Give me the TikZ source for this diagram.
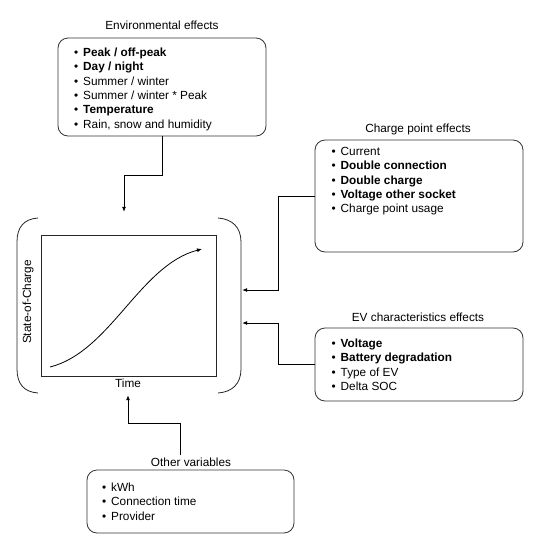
\documentclass[tikz,border=0pt]{standalone}
\usepackage{fontspec}
\setmainfont{Liberation Sans}
\usetikzlibrary{arrows.meta}
\newcommand{\bl}{\makebox[9pt][l]{\textbullet}}
\tikzset{
  box/.style={draw=black!80, line width=0.8pt, rounded corners=10pt, inner sep=0pt},
  arr/.style={draw, line width=0.8pt, -{Latex[length=5pt,width=4pt]}},
  ttl/.style={anchor=base, inner sep=2pt, font=\fontsize{11.8}{13}\selectfont},
  lst/.style={anchor=base west, inner sep=0pt, font=\fontsize{11.8}{14.4}\selectfont},
}
\begin{document}
\begin{tikzpicture}[x=1pt,y=-1pt]
\useasboundingbox (0,0) rectangle (539,550);
% titles
\node[ttl] (envt) at (162,29.2) {Environmental effects};
\node[ttl] (cpt) at (418,132.2) {Charge point effects};
\node[ttl] (evt) at (418,321.2) {EV characteristics effects};
\node[ttl] (ovt) at (191,466.2) {Other variables};
% boxes
\node[box, minimum width=208pt, minimum height=98pt] (env) at (162,87) {};
\node[box, minimum width=208pt, minimum height=112pt] (cp) at (419,196) {};
\node[box, minimum width=208pt, minimum height=73pt] (ev) at (419,364.5) {};
\node[box, minimum width=207pt, minimum height=63pt] (ov) at (190.5,501.5) {};
% lists
\node[lst] (envl) at (74,56.2) {\begin{tabular}[t]{@{}l@{}}
\bl\textbf{Peak / off-peak}\\
\bl\textbf{Day / night}\\
\bl Summer / winter\\
\bl Summer / winter * Peak\\
\bl\textbf{Temperature}\\
\bl Rain, snow and humidity
\end{tabular}};
\node[lst] (cpl) at (331.5,155.2) {\begin{tabular}[t]{@{}l@{}}
\bl Current\\
\bl\textbf{Double connection}\\
\bl\textbf{Double charge}\\
\bl\textbf{Voltage other socket}\\
\bl Charge point usage
\end{tabular}};
\node[lst] (evl) at (331.5,347.2) {\begin{tabular}[t]{@{}l@{}}
\bl\textbf{Voltage}\\
\bl\textbf{Battery degradation}\\
\bl Type of EV\\
\bl Delta SOC
\end{tabular}};
\node[lst] (ovl) at (102,491.2) {\begin{tabular}[t]{@{}l@{}}
\bl kWh\\
\bl Connection time\\
\bl Provider
\end{tabular}};
% SOC plot area
\node[minimum width=225pt, minimum height=183pt, inner sep=0pt] (soc) at (129.5,303.5) {};
\draw[line width=0.8pt, black!85] (38,218) .. controls (24,219) and (17,227) .. (17,242) -- (17,369) .. controls (17,384) and (24,392) .. (38,393);
\draw[line width=0.8pt, black!85] (218,218) .. controls (232,219) and (241,227) .. (241,242) -- (241,369) .. controls (241,384) and (232,392) .. (218,393);
\draw[line width=0.8pt, black!85] (41,235) rectangle (216,376);
\draw[arr] (50,367) .. controls (110,352) and (140,265) .. (202,249);
\node[ttl] (timel) at (128,387.2) {Time};
\node[ttl, anchor=center, rotate=90] (socl) at (28,302) {State-of-Charge};
% connectors
\coordinate (e1) at (124,175);
\draw[arr] (env.south) |- (e1) -- (e1 |- soc.north);
\coordinate (c1) at (278,290);
\draw[arr] (cp.west) -| (c1) -- (c1 -| soc.east);
\coordinate (v1) at (278,323);
\draw[arr] (ev.west) -| (v1) -- (v1 -| soc.east);
\coordinate (o2) at (180,423);
\coordinate (o1) at (128,423);
\draw[arr] (ovt.north -| o2) -- (o2) -- (o1) -- (o1 |- soc.south);
\end{tikzpicture}
\end{document}
